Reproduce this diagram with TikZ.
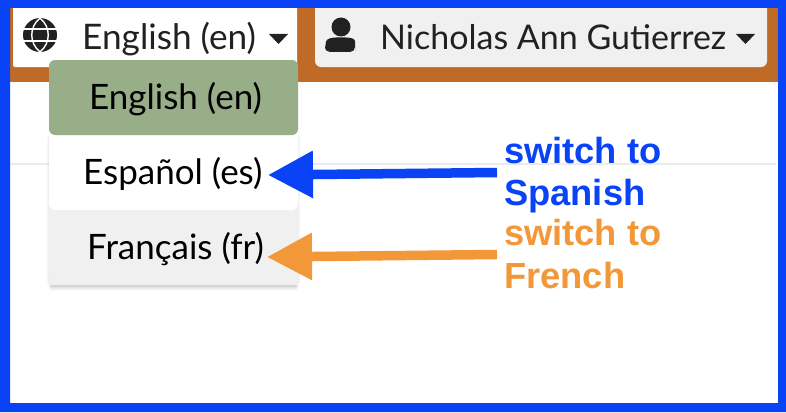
\documentclass[tikz,border=0pt]{standalone}
\usepackage{fontspec}
\setmainfont{Lato}
\newfontfamily\labelfont{Liberation Sans}
\usetikzlibrary{arrows.meta}
\definecolor{frameblue}{HTML}{0A43F5}
\definecolor{barbrown}{HTML}{BF6A27}
\definecolor{sage}{HTML}{97AE88}
\definecolor{softgray}{HTML}{F0F0F0}
\definecolor{inkdark}{HTML}{212121}
\definecolor{flame}{HTML}{F39839}
\definecolor{rulegray}{HTML}{E9ECF0}
\tikzset{
  x=1pt,y=-1pt,
  navtext/.style={font=\fontsize{35.2}{38}\selectfont,text=inkdark,inner sep=0pt,anchor=base west},
  usertext/.style={font=\fontsize{34}{38}\selectfont,text=inkdark,inner sep=0pt,anchor=base west},
  itemtext/.style={font=\fontsize{35}{38}\selectfont,text=black,inner sep=0pt,anchor=base west},
  calltext/.style={font=\labelfont\bfseries\fontsize{36.3}{38}\selectfont,inner sep=0pt,anchor=base west},
  callarrow/.style={line width=9.5pt,-{Triangle[length=45pt,width=45pt]}},
}
\begin{document}
\begin{tikzpicture}
\useasboundingbox (0,0) rectangle (786,412);
\fill[white] (0,0) rectangle (786,412);
\fill[barbrown] (0,0) rectangle (786,82);
\draw[rulegray,line width=1.5pt] (0,164) -- (776,164);
% nav buttons
\fill[white,rounded corners=2pt] (13,0) rectangle (297,67);
\fill[softgray,rounded corners=6pt] (315,0) rectangle (767,67);
% globe
\begin{scope}[shift={(40,35)}]
  \fill[inkdark] (0,0) circle (17);
  \draw[white,line width=1.4pt] (0,-17) .. controls (-11,-8) and (-11,8) .. (0,17);
  \draw[white,line width=1.4pt] (0,-17) .. controls (11,-8) and (11,8) .. (0,17);
  \draw[white,line width=1.4pt] (-17,-6) -- (17,-6);
  \draw[white,line width=1.4pt] (-17,6) -- (17,6);
\end{scope}
\node[navtext] (langnav) at (82,49) {English (en)};
\fill[inkdark] (269,34) -- (288,34) -- (278.5,44) -- cycle;
% person
\fill[inkdark] (341,27) circle (9.5);
\fill[inkdark,rounded corners=5pt] (325,52) -- (325,46) .. controls (327,38) and (334,37.5) .. (341,37.5) .. controls (348,37.5) and (355,38) .. (355,46) -- (355,52) -- cycle;
\node[usertext] (usernav) at (380,49) {Nicholas Ann Gutierrez};
\fill[inkdark] (736,34) -- (755,34) -- (745.5,44) -- cycle;
% dropdown shadow
\foreach \g in {1,2,3,4,5,6}{
  \fill[black,opacity=0.01,rounded corners=3pt] (49-\g*0.4,135) rectangle (298+\g*0.4,285);
  \fill[black,opacity=0.03,rounded corners=3pt] (50-\g*0.2,275) rectangle (297+\g*0.2,285+\g*0.9);
}
% dropdown
\fill[white,rounded corners=6pt] (49,125) rectangle (298,210);
\fill[softgray] (49,210) rectangle (298,285);
\fill[sage,rounded corners=6pt] (49,60) rectangle (298,135);
\node[itemtext] (itemen) at (89,109) {English (en)};
\node[itemtext] (itemes) at (83,184) {Español (es)};
\node[itemtext] (itemfr) at (87,259) {Français (fr)};
% callouts
\node[calltext,text=frameblue] (calles) at (504,163) {switch to};
\node[calltext,text=frameblue] (calles2) at (504,205) {Spanish};
\node[calltext,text=flame] (callfr) at (504,245) {switch to};
\node[calltext,text=flame] (callfr2) at (504,288) {French};
\coordinate (esstart) at (497,172.5);
\coordinate (frstart) at (497,254.5);
\coordinate (estip) at (268,175);
\coordinate (frtip) at (267,257);
\draw[callarrow,frameblue] (esstart) -- (estip);
\draw[callarrow,flame] (frstart) -- (frtip);
% frame
\fill[frameblue,even odd rule] (0,0) rectangle (786,412) (10,8) rectangle (778,403);
\end{tikzpicture}
\end{document}
